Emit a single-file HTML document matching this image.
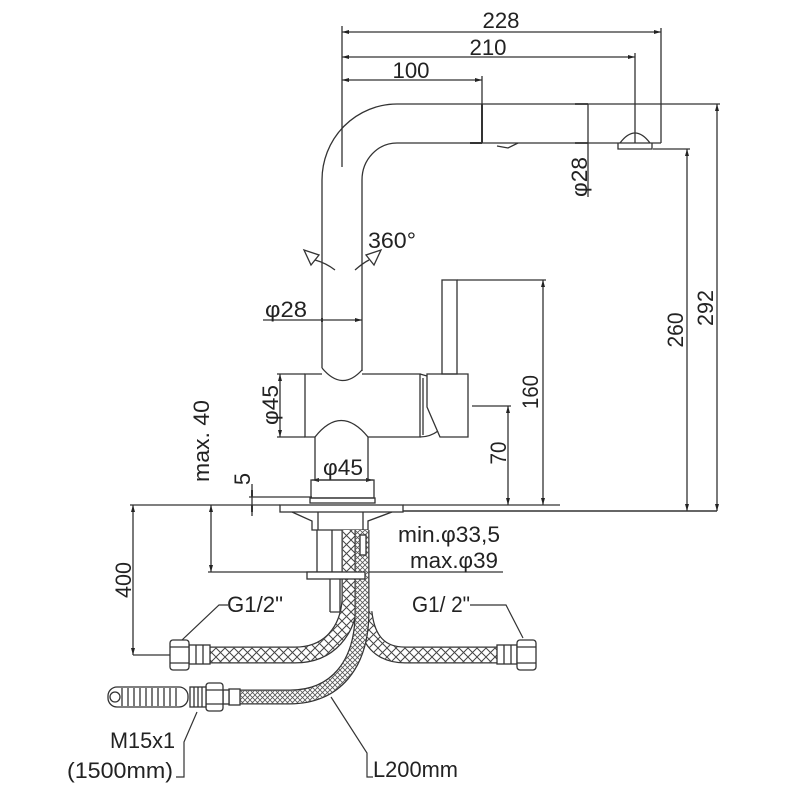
<!DOCTYPE html>
<html><head><meta charset="utf-8"><style>
html,body{margin:0;padding:0;background:#fff;}
svg{display:block;}
text{font-family:"Liberation Sans",sans-serif;font-size:22px;fill:#222;}
</style></head><body>
<svg width="800" height="800" viewBox="0 0 800 800" xmlns="http://www.w3.org/2000/svg">
<defs>
<marker id="a" viewBox="0 0 7 4" refX="7" refY="2" markerWidth="7" markerHeight="4" markerUnits="userSpaceOnUse" orient="auto-start-reverse"><path d="M0,0 L7,2 L0,4z" fill="#222"/></marker>
<pattern id="h1" patternUnits="userSpaceOnUse" width="9" height="9"><path d="M0,0 L9,9 M9,0 L0,9" stroke="#444" stroke-width="1"/></pattern>
<pattern id="h2" patternUnits="userSpaceOnUse" width="5" height="5"><path d="M0,0 L5,5 M5,0 L0,5" stroke="#555" stroke-width="0.8"/></pattern>
</defs>
<rect width="800" height="800" fill="#fff"/>

<g fill="none" stroke="#333" stroke-width="1.3">
<path d="M342,32 H661" marker-start="url(#a)" marker-end="url(#a)"/>
<path d="M342,57 H635" marker-start="url(#a)" marker-end="url(#a)"/>
<path d="M342,80 H482" marker-start="url(#a)" marker-end="url(#a)"/>
<path d="M342,26 V167"/>
<path d="M661,28 V104"/>
<path d="M635,53 V143"/>
<path d="M482,76 V104"/>
<path d="M720,104 H397 A75,76 0 0 0 322,180 V368"/>
<path d="M661,143 H397 A35,37 0 0 0 362,180 V371"/>
<path d="M661,104 V143"/>
<path d="M482,104 V143" stroke-width="2"/>
<path d="M470,143 H482" stroke-width="2"/>
<path d="M618,143 V149 H652 V143"/>
<path d="M620,143 Q635,123 650,143"/>
<path d="M497,146 L508,148 L518,143"/>
<path d="M575,104 H588 M575,143 H588" stroke-width="1.8"/>
<path d="M588,104 V197"/>
<path d="M717,104 V511" marker-start="url(#a)" marker-end="url(#a)"/>
<path d="M653,149 H690"/>
<path d="M687,149 V511" marker-start="url(#a)" marker-end="url(#a)"/>
<path d="M335,270 Q326,263 315,260"/>
<path d="M304,250 L319,255 L311,265 Z" fill="#fff"/>
<path d="M355,270 Q363,263 369,260"/>
<path d="M381,250 L366,255 L374,265 Z" fill="#fff"/>
<path d="M263,320 H362" marker-end="url(#a)"/>
<path d="M322,318 V322" stroke-width="2"/>
<path d="M322,368 Q342,392 362,370"/>
<path d="M322,374 H305 V437 H315 M368,437 H420 V374 H362"/>
<path d="M315,437 Q341,404 368,437"/>
<path d="M315,437 V480 M368,437 V480"/>
<path d="M420,374 L427,376 M423,378 V435 M420,437 Q430,437 438,431"/>
<path d="M427,374 H468 V437 H440 L427,407 Z"/>
<rect x="442" y="280" width="15" height="94"/>
<path d="M277,374 H305 M277,437 H305"/>
<path d="M280,374 V437" marker-start="url(#a)" marker-end="url(#a)"/>
<path d="M457,280 H546"/>
<path d="M543,280 V505" marker-start="url(#a)" marker-end="url(#a)"/>
<path d="M472,406 H511"/>
<path d="M508,406 V505" marker-start="url(#a)" marker-end="url(#a)"/>
<path d="M312,480 H373" marker-start="url(#a)" marker-end="url(#a)"/>
<rect x="311" y="480" width="63" height="18"/>
<rect x="310" y="498" width="65" height="5"/>
<path d="M130,505 H280 M403,505 H560"/>
<path d="M403,511 H717" stroke-width="1.6"/>
<rect x="280" y="505" width="123" height="7"/>
<path d="M292,512 L312,521 V530 H368 V521 L392,512"/>
<path d="M318,512 V530 M363,512 V530"/>
<path d="M249,497 H312"/>
<path d="M252,484 V516"/>
<path d="M252,490 V497 M252,505 V512" stroke-width="2"/>
<path d="M211,505 V572" marker-start="url(#a)" marker-end="url(#a)"/>
<path d="M208,572 H503"/>
<path d="M133,505 V655" marker-start="url(#a)" marker-end="url(#a)"/>
<path d="M133,655 H170"/>
<path d="M317,530 V572 M332,530 V572"/>
<path d="M330,579 V612 M340,579 V612 M330,612 H340"/>
</g>

<g fill="none">
<path d="M210,655 H295 C330,655 348,630 350,600 V530" stroke="#333" stroke-width="17"/>
<path d="M210,655 H295 C330,655 348,630 350,600 V530" stroke="#fff" stroke-width="14.5"/>
<path d="M210,655 H295 C330,655 348,630 350,600 V530" stroke="url(#h1)" stroke-width="14.5"/>
<path d="M497,655 H405 C380,655 367,640 364,612" stroke="#333" stroke-width="17"/>
<path d="M497,655 H405 C380,655 367,640 364,612" stroke="#fff" stroke-width="14.5"/>
<path d="M497,655 H405 C380,655 367,640 364,612" stroke="url(#h1)" stroke-width="14.5"/>
<path d="M362,530 V612 C362,665 335,697 290,697 H240" stroke="#333" stroke-width="15"/>
<path d="M362,530 V612 C362,665 335,697 290,697 H240" stroke="#fff" stroke-width="12.5"/>
<path d="M362,530 V612 C362,665 335,697 290,697 H240" stroke="url(#h2)" stroke-width="12.5"/>
</g>
<g fill="#fff" stroke="#333" stroke-width="1.3">
<rect x="307" y="572" width="58" height="7"/>
<rect x="360" y="535" width="6" height="20"/>
<rect x="189" y="645" width="21" height="19"/>
<path d="M196,645 V664 M203,645 V664" fill="none"/>
<rect x="170" y="640" width="19" height="30" rx="3"/>
<path d="M170,647 H189 M170,663 H189" fill="none"/>
<rect x="497" y="645" width="20" height="19"/>
<path d="M504,645 V664 M511,645 V664" fill="none"/>
<rect x="517" y="640" width="19" height="30" rx="3"/>
<path d="M517,647 H536 M517,663 H536" fill="none"/>
<rect x="229" y="689" width="11" height="16"/>
<rect x="223" y="690" width="6" height="14"/>
<rect x="206" y="683" width="17" height="28" rx="3"/>
<path d="M206,690 H223 M206,704 H223" fill="none"/>
<rect x="190" y="687" width="16" height="20"/>
<path d="M194,687 V707 M198,687 V707 M202,687 V707" fill="none"/>
<rect x="108" y="687" width="80" height="20" rx="9"/>
<path d="M122,688 V706 M128,688 V706 M134,688 V706 M140,688 V706 M146,688 V706 M152,688 V706 M158,688 V706 M164,688 V706 M170,688 V706 M176,688 V706" fill="none"/>
<circle cx="115" cy="697" r="5" fill="none"/>
</g>

<g fill="none" stroke="#333" stroke-width="1.2">
<path d="M228,605 H219 L182,640"/>
<path d="M470,605 H506 L523,638"/>
<path d="M197,712 L184,742 V777 H176"/>
<path d="M331,697 L367,753 V777 H373"/>
</g>

<text x="501" y="28" text-anchor="middle" textLength="37" lengthAdjust="spacingAndGlyphs">228</text>
<text x="488" y="55" text-anchor="middle" textLength="37" lengthAdjust="spacingAndGlyphs">210</text>
<text x="411" y="78" text-anchor="middle" textLength="37" lengthAdjust="spacingAndGlyphs">100</text>
<text x="368" y="248" textLength="48" lengthAdjust="spacingAndGlyphs">360°</text>
<text x="265" y="317" textLength="42" lengthAdjust="spacingAndGlyphs">φ28</text>
<text x="343" y="475" text-anchor="middle" textLength="40" lengthAdjust="spacingAndGlyphs">φ45</text>
<text x="398" y="542" textLength="102" lengthAdjust="spacingAndGlyphs">min.φ33,5</text>
<text x="410" y="568" textLength="88" lengthAdjust="spacingAndGlyphs">max.φ39</text>
<text x="227" y="612" textLength="56" lengthAdjust="spacingAndGlyphs">G1/2"</text>
<text x="412" y="612" textLength="58" lengthAdjust="spacingAndGlyphs">G1/ 2"</text>
<text x="175" y="748" text-anchor="end" textLength="65" lengthAdjust="spacingAndGlyphs">M15x1</text>
<text x="173" y="778" text-anchor="end" textLength="106" lengthAdjust="spacingAndGlyphs">(1500mm)</text>
<text x="373" y="777" textLength="85" lengthAdjust="spacingAndGlyphs">L200mm</text>

<text transform="translate(587,177) rotate(-90)" text-anchor="middle" textLength="40" lengthAdjust="spacingAndGlyphs">φ28</text>
<text transform="translate(278,405) rotate(-90)" text-anchor="middle" textLength="40" lengthAdjust="spacingAndGlyphs">φ45</text>
<text transform="translate(538,392) rotate(-90)" text-anchor="middle" textLength="34" lengthAdjust="spacingAndGlyphs">160</text>
<text transform="translate(506,453) rotate(-90)" text-anchor="middle" textLength="23" lengthAdjust="spacingAndGlyphs">70</text>
<text transform="translate(683,330) rotate(-90)" text-anchor="middle" textLength="35" lengthAdjust="spacingAndGlyphs">260</text>
<text transform="translate(713,308) rotate(-90)" text-anchor="middle" textLength="36" lengthAdjust="spacingAndGlyphs">292</text>
<text transform="translate(209,441) rotate(-90)" text-anchor="middle" textLength="82" lengthAdjust="spacingAndGlyphs">max. 40</text>
<text transform="translate(250,479) rotate(-90)" text-anchor="middle">5</text>
<text transform="translate(131,580) rotate(-90)" text-anchor="middle" textLength="36" lengthAdjust="spacingAndGlyphs">400</text>
</svg>
</body></html>
